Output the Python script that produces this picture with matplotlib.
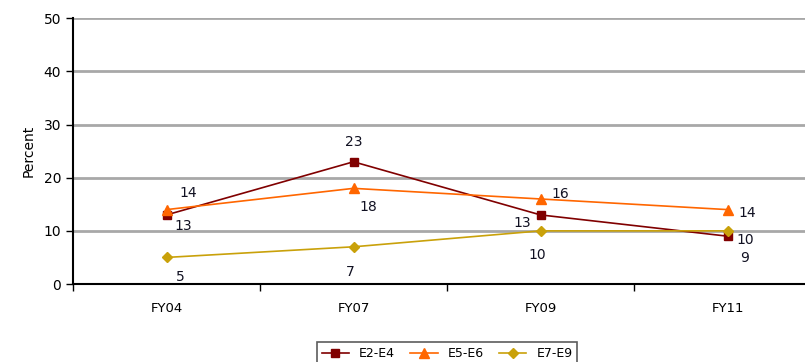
import numpy as np
import matplotlib.pyplot as plt

years = ['FY04', 'FY07', 'FY09', 'FY11']
e2_e4 = [13, 23, 13, 9]
e5_e6 = [14, 18, 16, 14]
e7_e9 = [5, 7, 10, 10]

# label offsets in pixels, one per point
off_e2 = [(17, -11), (0, 20), (-18, -8), (17, -22)]
off_e5 = [(22, 17), (15, -19), (20, 5), (20, -3)]
off_e7 = [(14, -20), (-3, -25), (-3, -24), (18, -9)]

fig = plt.figure(figsize=(8.05, 3.62), dpi=100)
ax = fig.add_axes([73/805, 1-284/362, 748/805, (284-18.3)/362])

x = np.arange(len(years))
series = [
    ('E2-E4', e2_e4, '#800000', 's', 6, off_e2),
    ('E5-E6', e5_e6, '#FF6600', '^', 7, off_e5),
    ('E7-E9', e7_e9, '#C9A10A', 'D', 5, off_e7),
]
for name, vals, col, mk, ms, offs in series:
    ax.plot(x, vals, color=col, marker=mk, markersize=ms, lw=1.2, label=name)
    for xi, v, o in zip(x, vals, offs):
        ax.annotate(str(v), (xi, v), xytext=o, textcoords='offset pixels',
                    ha='center', va='center', fontsize=10, color='#111122')

ax.set_xlim(-0.5, 3.5)
ax.set_ylim(0, 50)
ax.set_yticks(range(0, 51, 10))
ax.set_xticks(x)
ax.set_xticklabels(years)
ax.set_xticks(np.arange(-0.5, 4, 1), minor=True)
ax.tick_params(axis='x', which='major', length=0, pad=13, labelsize=9.5)
ax.tick_params(axis='x', which='minor', length=5, width=1, direction='out')
ax.tick_params(axis='y', length=5, width=1, direction='out', labelsize=10)
ax.set_ylabel('Percent', fontsize=10, labelpad=6)
ax.yaxis.grid(True, color='#A8A8A8', lw=2)
ax.set_axisbelow(True)
for s in ['top', 'right']:
    ax.spines[s].set_visible(False)
ax.spines['left'].set_linewidth(1.5)
ax.spines['bottom'].set_linewidth(1.5)

leg = fig.legend(loc='upper center', bbox_to_anchor=(447/805, 1-336/362), ncol=3,
                 frameon=True, fontsize=9, fancybox=False, handlelength=2.2,
                 columnspacing=1.2, borderpad=0.4, edgecolor='#333333')
leg.get_frame().set_linewidth(1.2)

fig.savefig('out.png', dpi=100)
